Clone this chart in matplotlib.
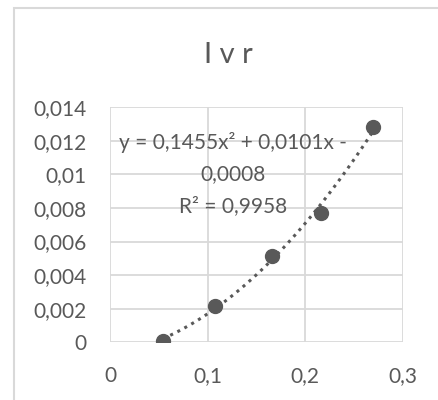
import numpy as np
import matplotlib
matplotlib.use('Agg')
import matplotlib.pyplot as plt
from matplotlib.patches import Rectangle
from matplotlib.ticker import FuncFormatter, MultipleLocator

plt.rcParams['font.family'] = ['Lato', 'DejaVu Sans']

# data
r_vals = [0.0543, 0.1075, 0.1655, 0.2157, 0.2695]
i_vals = [0.0001, 0.00216, 0.00517, 0.0077, 0.0128]
title = 'I v r'
eq_text = 'y = 0,1455x² + 0,0101x -\n0,0008\nR² = 0,9958'

grey = '#595959'
gridc = '#d9d9d9'

fig = plt.figure(figsize=(4.39, 4.0), dpi=100)
fig.patches.append(Rectangle((14/439, -0.02), 1.1, 1 - 8/400 + 0.02, transform=fig.transFigure,
                             fill=False, edgecolor='#d9d9d9', linewidth=1.5))

ax = fig.add_axes([110/439, 1 - 342.3/400, (403 - 110)/439, (342.3 - 107.3)/400])
ax.set_xlim(0, 0.3)
ax.set_ylim(0, 0.014)
ax.xaxis.set_major_locator(MultipleLocator(0.1))
ax.yaxis.set_major_locator(MultipleLocator(0.002))
fmt = FuncFormatter(lambda v, p: ('%g' % round(v, 6)).replace('.', ','))
ax.xaxis.set_major_formatter(fmt)
ax.yaxis.set_major_formatter(fmt)
ax.grid(True, color=gridc, linewidth=1.3)
ax.set_axisbelow(True)
for s in ax.spines.values():
    s.set_visible(False)
ax.tick_params(length=0, labelsize=15, colors=grey)
ax.tick_params(axis='x', pad=17)
ax.tick_params(axis='y', pad=17)

# quadratic trendline
coef = np.polyfit(r_vals, i_vals, 2)
xs = np.linspace(min(r_vals), max(r_vals), 100)
ax.plot(xs, np.polyval(coef, xs), linestyle=(0, (1, 1.6)), color=grey, linewidth=2.2, zorder=2)
ax.plot(r_vals, i_vals, 'o', color=grey, markersize=10, zorder=3)

ax.text(233/439, 1 - 174/400, eq_text, transform=fig.transFigure, ha='center', va='center',
        fontsize=15, color=grey, linespacing=1.75)

fig.text(228/439, 1 - 55/400, title, ha='center', va='center', fontsize=21, color=grey)

fig.savefig('out.png', dpi=100)
